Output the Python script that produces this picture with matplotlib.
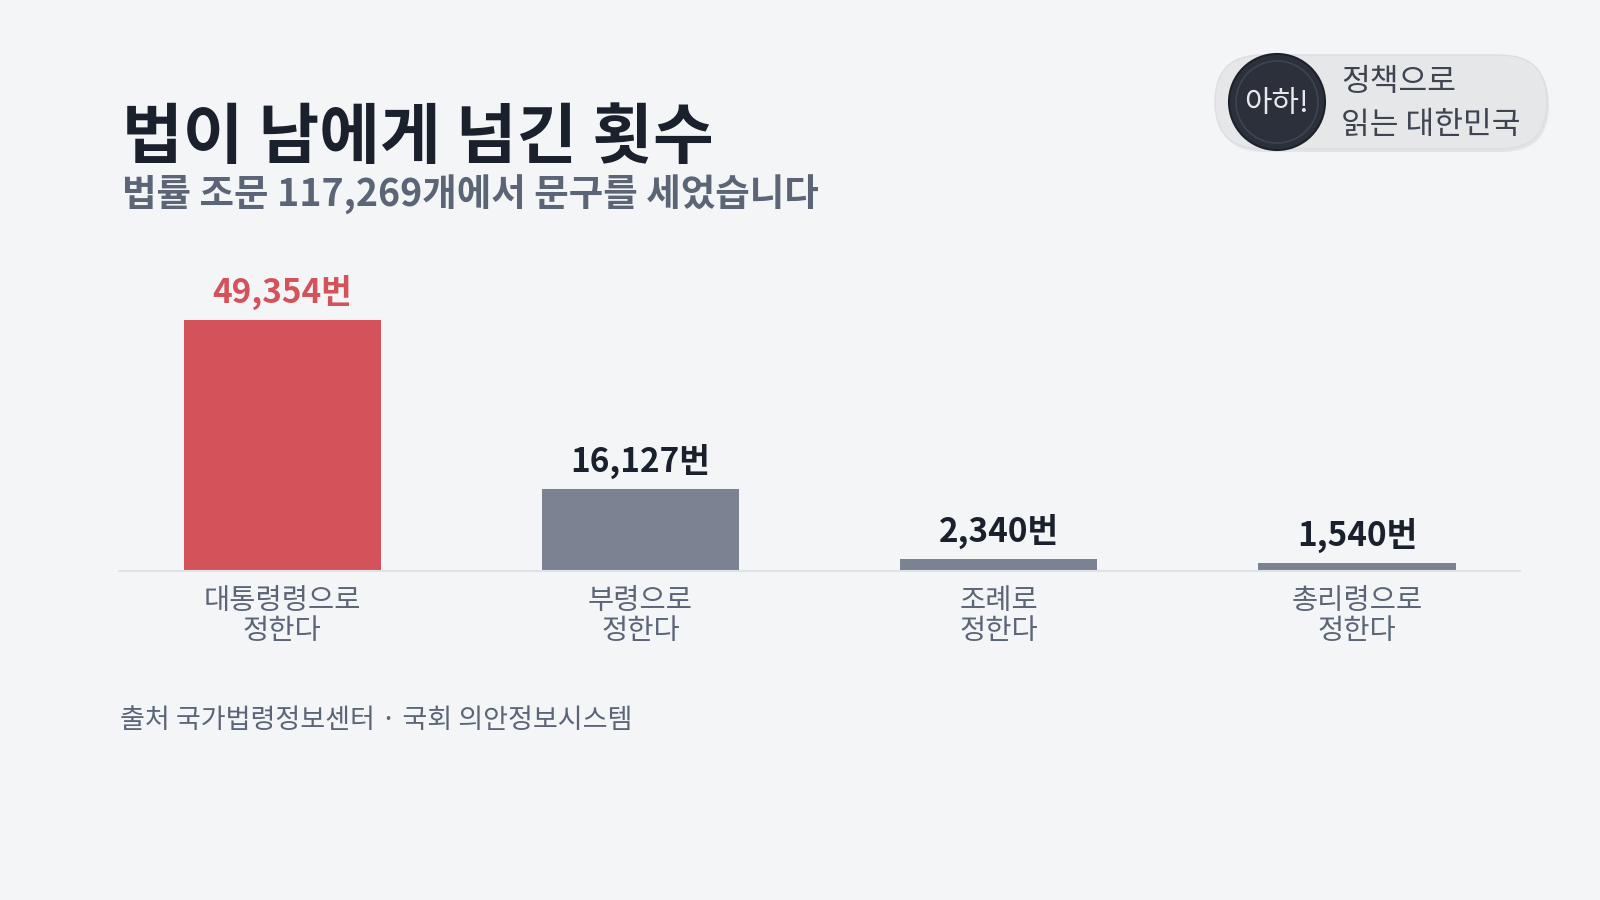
import matplotlib.pyplot as plt
from matplotlib.patches import FancyBboxPatch, Circle

plt.rcParams['font.family'] = ['Noto Sans CJK KR', 'DejaVu Sans']

# 데이터
categories = ['대통령령으로\n정한다', '부령으로\n정한다', '조례로\n정한다', '총리령으로\n정한다']
counts = [49354, 16127, 2340, 1540]
bar_colors = ['#d4525a', '#7b8392', '#7b8392', '#7b8392']
label_colors = ['#d4525a', '#1a202c', '#1a202c', '#1a202c']

title = '법이 남에게 넘긴 횟수'
subtitle = '법률 조문 117,269개에서 문구를 세었습니다'
source = '출처 국가법령정보센터 · 국회 의안정보시스템'

bg = '#f4f5f7'
fig = plt.figure(figsize=(16, 9), dpi=100, facecolor=bg)

ax = fig.add_axes([0.0744, 0.366, 0.8756, 0.339])
ax.set_facecolor(bg)
x = range(len(categories))
bars = ax.bar(x, counts, width=0.55, color=bar_colors)
ax.set_xlim(-0.455, 3.455)
ax.set_ylim(0, 60000)

for b, v, c in zip(bars, counts, label_colors):
    ax.annotate(f'{v:,}번', (b.get_x() + b.get_width() / 2, v),
                xytext=(0, 7), textcoords='offset points',
                ha='center', va='bottom', fontsize=24, fontweight='bold', color=c)

ax.set_xticks(list(x))
ax.set_xticklabels(categories, fontsize=20.5, color='#5b6576', linespacing=1.0)
ax.tick_params(axis='x', length=0, pad=11)
ax.set_yticks([])
for s in ['top', 'right', 'left']:
    ax.spines[s].set_visible(False)
ax.spines['bottom'].set_color('#dfe2e7')
ax.spines['bottom'].set_linewidth(1.5)

# 제목
fig.text(122 / 1600, 1 - 158 / 900, title, fontsize=47.5, fontweight='bold',
         color='#1a202c', ha='left', va='baseline')
fig.text(122 / 1600, 1 - 207 / 900, subtitle, fontsize=27, fontweight='bold',
         color='#5b6576', ha='left', va='baseline')
fig.text(120 / 1600, 1 - 728 / 900, source, fontsize=19.5,
         color='#5b6576', ha='left', va='baseline')

# 오른쪽 위 배지
ov = fig.add_axes([0, 0, 1, 1], zorder=5)
ov.set_xlim(0, 1600)
ov.set_ylim(900, 0)
ov.axis('off')
ov.add_patch(FancyBboxPatch((1217, 58), 332, 94,
                            boxstyle='round,pad=0,rounding_size=47',
                            fc='#dcdee1', ec='none', alpha=0.7))
ov.add_patch(FancyBboxPatch((1215, 55), 332, 94,
                            boxstyle='round,pad=0,rounding_size=47',
                            fc='#e6e7e9', ec='#dcdee1', lw=1.0))
ov.add_patch(Circle((1277, 102), 48, fc='#2b303b', ec='#1d2129', lw=1.5))
ov.add_patch(Circle((1277, 102), 41, fc='none', ec='#3d4452', lw=1.2))
ov.text(1277, 104, '아하!', fontsize=21.5, color='#e6e8ec', ha='center', va='center')
ov.text(1341, 82, '정책으로', fontsize=22.5, color='#3e4450', ha='left', va='center')
ov.text(1341, 125, '읽는 대한민국', fontsize=22.5, color='#3e4450', ha='left', va='center')

fig.savefig('out.png', dpi=100, facecolor=bg)
